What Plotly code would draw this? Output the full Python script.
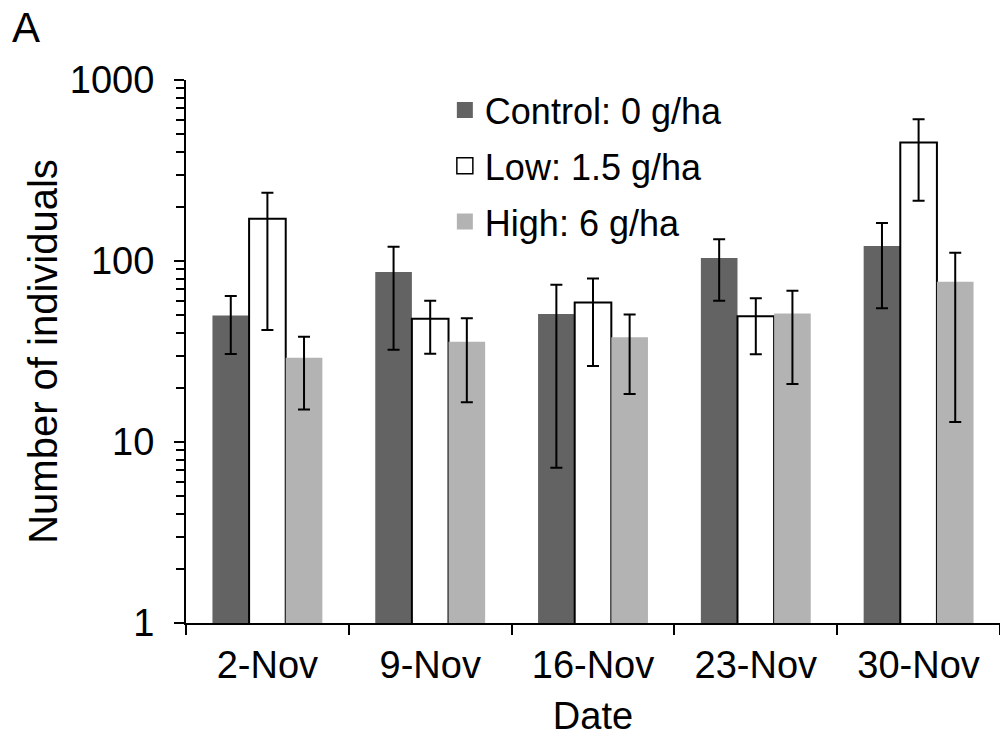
import plotly.graph_objects as go

dates = ["2-Nov", "9-Nov", "16-Nov", "23-Nov", "30-Nov"]

control = [50, 87, 51, 104, 121]
control_hi = [64, 120, 74, 132, 162]
control_lo = [30.6, 32.3, 7.2, 60.3, 54.8]

low = [171, 48, 59, 49.5, 451]
low_hi = [238, 60.3, 80, 62.2, 606]
low_lo = [41.6, 30.7, 26.3, 30.5, 215]

high = [29.2, 35.8, 37.9, 51.2, 76.8]
high_hi = [38.2, 48.2, 50.7, 68.5, 111]
high_lo = [15.1, 16.6, 18.4, 20.9, 12.9]

names = ["Control: 0 g/ha", "Low: 1.5 g/ha", "High: 6 g/ha"]
fills = ["#636363", "white", "#b3b3b3"]
edges = ["#636363", "black", "#b3b3b3"]
FONT = "Liberation Sans, Arial, sans-serif"


def err(v, hi, lo):
    return dict(type="data", symmetric=False,
                array=[h - x for x, h in zip(v, hi)],
                arrayminus=[x - l for x, l in zip(v, lo)],
                color="black", thickness=2, width=6)


fig = go.Figure()
series = [(control, control_hi, control_lo), (low, low_hi, low_lo), (high, high_hi, high_lo)]
for i, (v, hi, lo) in enumerate(series):
    fig.add_trace(go.Bar(
        x=dates, y=v, name=names[i], showlegend=False,
        marker=dict(color=fills[i],
                    line=dict(color="black", width=2 if i == 1 else 0)),
        error_y=err(v, hi, lo)))

# legend swatches (larger squares than bar legend defaults)
for i in range(3):
    fig.add_trace(go.Scatter(
        x=[None], y=[None], mode="markers", name=names[i],
        legendgroup=f"g{i}",
        marker=dict(symbol="square", size=16, color=fills[i],
                    line=dict(color=edges[i], width=1.5 if i == 1 else 0))))

minor_vals = [m * 10 ** d for d in range(3) for m in range(2, 10)]

fig.update_layout(
    width=1000, height=741,
    margin=dict(l=186, r=0, t=79.5, b=117.5),
    paper_bgcolor="white", plot_bgcolor="white",
    font=dict(family=FONT, size=38, color="black"),
    barmode="group", bargap=0.325, bargroupgap=0,
    title=dict(text="A", x=0.012, xanchor="left", xref="container",
               y=1 - 27.5 / 741, yanchor="middle", yref="container",
               font=dict(size=42, family=FONT, color="black")),
    showlegend=True,
    legend=dict(x=0.318, xanchor="left", y=1.0, yanchor="top",
                font=dict(size=36, family=FONT, color="black"),
                bgcolor="rgba(0,0,0,0)", traceorder="grouped",
                tracegroupgap=6, itemsizing="trace"),
    xaxis=dict(range=[-0.5, 4.5], showline=True, linecolor="black", linewidth=2,
               ticks="outside", tickson="boundaries", ticklen=10, tickwidth=2,
               tickcolor="black", showgrid=False, zeroline=False,
               ticklabelstandoff=7,
               title=dict(text="Date", standoff=18, font=dict(size=38))),
    yaxis=dict(type="log", range=[0, 3], showline=True, linecolor="black",
               linewidth=2, ticks="outside", ticklen=10, tickwidth=2,
               tickcolor="black", showgrid=False, zeroline=False,
               tickvals=[1, 10, 100, 1000], ticktext=["1", "10", "100", "1000"],
               ticklabelstandoff=12,
               minor=dict(tickvals=minor_vals, ticks="outside", ticklen=8,
                          tickwidth=2, tickcolor="black", showgrid=False),
               title=dict(text="Number of individuals", standoff=0,
                          font=dict(size=40))),
)

fig.write_html("out.html")
